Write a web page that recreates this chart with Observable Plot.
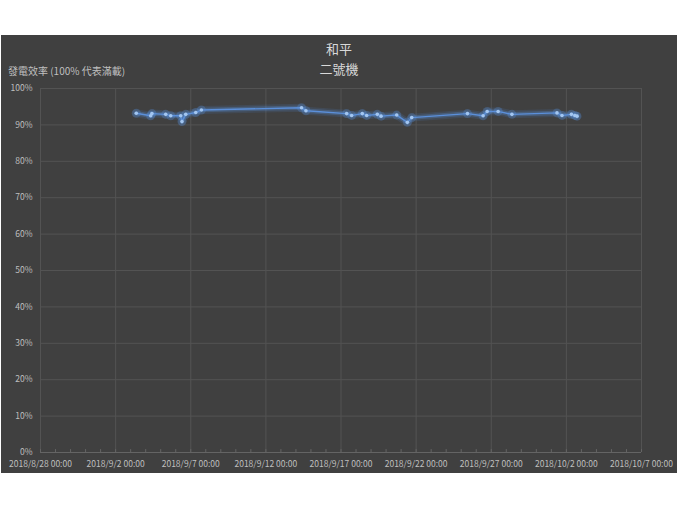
<!DOCTYPE html>
<html>
<head>
<meta charset="utf-8">
<script src="https://cdn.jsdelivr.net/npm/d3@7"></script>
<script src="https://cdn.jsdelivr.net/npm/@observablehq/plot@0.6"></script>
<style>
  html, body { margin: 0; padding: 0; background: #ffffff; }
  body { width: 680px; height: 510px; position: relative; overflow: hidden; font-family: "Noto Sans CJK TC", "Noto Sans", sans-serif; }
  #panel { position: absolute; left: 1px; top: 35px; width: 676px; height: 438px; background: #404040; }
  #chart { position: absolute; left: 0; top: 0; }
  .title { position: absolute; left: 0; width: 676px; text-align: center; color: #d9d9d9; font-size: 13px; line-height: 16px; }
  #ylabel { position: absolute; left: 7px; top: 29px; color: #bfbfbf; font-size: 10px; line-height: 14px; white-space: nowrap; }
</style>
</head>
<body>
<div id="panel">
  <div class="title" style="top:6px">和平</div>
  <div class="title" style="top:26px">二號機</div>
  <div id="ylabel">發電效率 (100% 代表滿載)</div>
  <div id="chart"></div>
</div>
<script>
// Observation times (UTC) and efficiency values (%)
const times = [
  "2018-09-03T09:00", "2018-09-04T08:00", "2018-09-04T10:00", "2018-09-05T08:00",
  "2018-09-05T16:00", "2018-09-06T08:00", "2018-09-06T10:00", "2018-09-06T16:00",
  "2018-09-07T08:00", "2018-09-07T17:00", "2018-09-14T09:00", "2018-09-14T16:00",
  "2018-09-17T09:00", "2018-09-17T17:00", "2018-09-18T10:00", "2018-09-18T17:00",
  "2018-09-19T10:00", "2018-09-19T16:00", "2018-09-20T17:00", "2018-09-21T10:00",
  "2018-09-21T17:00", "2018-09-25T10:00", "2018-09-26T11:00", "2018-09-26T17:30",
  "2018-09-27T11:00", "2018-09-28T09:00", "2018-10-01T09:00", "2018-10-01T17:00",
  "2018-10-02T08:00", "2018-10-02T13:30", "2018-10-02T17:00"
];
const efficiency = [
  93.2, 92.5, 93.1, 92.9,
  92.5, 92.5, 90.9, 92.9,
  93.4, 94.1, 94.7, 93.9,
  93.1, 92.6, 93.1, 92.6,
  92.9, 92.4, 92.7, 90.7,
  92.0, 93.1, 92.5, 93.7,
  93.7, 92.9, 93.3, 92.6,
  92.9, 92.6, 92.4
];
const xTickDates = ["2018-08-28", "2018-09-02", "2018-09-07", "2018-09-12", "2018-09-17",
  "2018-09-22", "2018-09-27", "2018-10-02", "2018-10-07"];
const yTickValues = [0, 10, 20, 30, 40, 50, 60, 70, 80, 90, 100];

const parse = s => new Date(s + (s.length > 10 ? ":00Z" : "T00:00:00Z"));
const data = times.map((t, i) => ({date: parse(t), value: efficiency[i] / 100}));
const xTicks = xTickDates.map(parse);
const xDomain = [xTicks[0], xTicks[xTicks.length - 1]];
const dailyTicks = d3.utcDay.range(xDomain[0], d3.utcDay.offset(xDomain[1], 1));
const yTicks = yTickValues.map(v => v / 100);
const fmtX = d3.utcFormat("%Y/%-m/%-d %H:%M");
const fmtY = d3.format(".0%");

const blue = "#5b8fd9";

const chart = Plot.plot({
  width: 676,
  height: 438,
  marginLeft: 39,
  marginRight: 36,
  marginTop: 53,
  marginBottom: 21,
  style: {background: "transparent", fontFamily: "'Noto Sans CJK TC', 'Noto Sans', sans-serif", fontSize: "8.5px", color: "#bfbfbf"},
  x: {type: "utc", domain: xDomain},
  y: {domain: [0, 1]},
  marks: [
    Plot.gridY(yTicks, {stroke: "#535353", strokeOpacity: 1, strokeWidth: 1}),
    Plot.gridX(xTicks, {stroke: "#535353", strokeOpacity: 1, strokeWidth: 1}),
    Plot.ruleY([0], {stroke: "#646464"}),
    Plot.ruleX(dailyTicks, {x: d => d, y1: 0, y2: 0.008, stroke: "#646464"}),
    Plot.axisY(yTicks, {tickFormat: fmtY, tickSize: 0, tickPadding: 8, fill: "#bfbfbf", fontSize: 8.5, label: null}),
    Plot.axisX(xTicks, {tickFormat: fmtX, tickSize: 0, tickPadding: 8, fill: "#bfbfbf", fontSize: 8.5, label: null}),
    // glow layers
    Plot.line(data, {x: "date", y: "value", stroke: "#4f86d8", strokeWidth: 8, strokeOpacity: 0.14}),
    Plot.line(data, {x: "date", y: "value", stroke: "#5a92e0", strokeWidth: 4.5, strokeOpacity: 0.28}),
    Plot.dot(data, {x: "date", y: "value", r: 4.5, fill: "#5a92e0", fillOpacity: 0.28, stroke: "none"}),
    Plot.line(data, {x: "date", y: "value", stroke: blue, strokeWidth: 1.4}),
    Plot.dot(data, {x: "date", y: "value", r: 1.8, fill: "#a3c6f0", stroke: "none"})
  ]
});
document.getElementById("chart").appendChild(chart);
</script>
</body>
</html>
